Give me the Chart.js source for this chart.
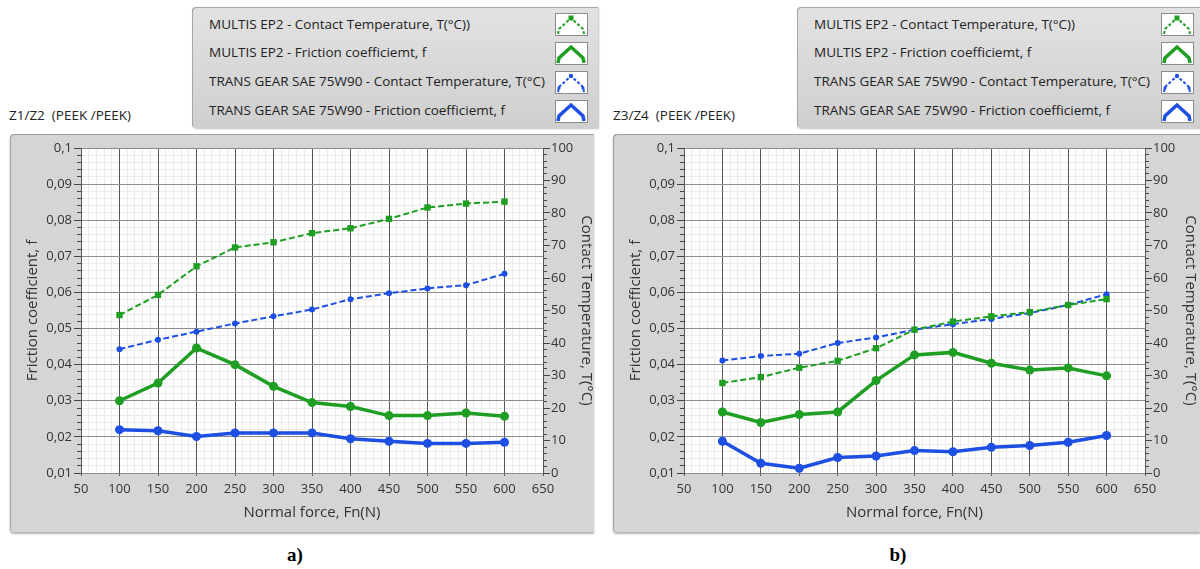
<!DOCTYPE html>
<html>
<head>
<meta charset="utf-8">
<script src="https://cdn.jsdelivr.net/npm/chart.js@4.4.1/dist/chart.umd.min.js"></script>
<style>
    body { margin: 0; width: 1200px; height: 569px; background: #fff; position: relative; overflow: hidden;
           font-family: "Open Sans", sans-serif; color: #222; }
    .panel-title { position: absolute; top: 106px; font-size: 13.5px; line-height: 18px; white-space: pre; }
    .legend { position: absolute; top: 7px; height: 121px; box-sizing: border-box;
              background: linear-gradient(#e2e2e2, #cfcfcf); border-radius: 4px 0 0 4px;
              box-shadow: inset 1px 1px 0 #a6a6a6, 1px 1px 2px rgba(0,0,0,0.25); }
    .legend .row { position: absolute; font-size: 13.5px; line-height: 18px; white-space: nowrap; }
    .legend svg { position: absolute; }
    .frame { position: absolute; top: 134px; height: 398px; background: #d5d5d5; border-radius: 4px 0 0 4px;
             box-shadow: inset 1px 1px 0 #a3a3a3, 0 2px 2px rgba(0,0,0,0.3); }
    .frame canvas { position: absolute; left: 0; top: 0; }
    .caption { position: absolute; top: 543px; width: 40px; text-align: center;
               font: bold 19px "Liberation Serif", "Times New Roman", serif; line-height: 24px; color: #000; }
</style>
</head>
<body>
<script>
const forceN = [100, 150, 200, 250, 300, 350, 400, 450, 500, 550, 600];
const xTicks = [50, 650, 50];      // min, max, step
const fricTicks = [0.01, 0.1, 0.01];
const tempTicks = [0, 100, 10];

// a) Z1/Z2
const multisTempA = [48.6, 54.8, 63.6, 69.4, 71.0, 73.8, 75.3, 78.2, 81.7, 82.9, 83.5];
const multisFricA = [0.0300, 0.0349, 0.0446, 0.0400, 0.0340, 0.0295, 0.0284, 0.0259, 0.0259, 0.0266, 0.0257];
const transTempA = [38.1, 41.0, 43.5, 46.0, 48.2, 50.3, 53.5, 55.3, 56.8, 57.8, 61.3];
const transFricA = [0.0220, 0.0217, 0.0201, 0.0211, 0.0211, 0.0211, 0.0195, 0.0188, 0.0182, 0.0182, 0.0185];

// b) Z3/Z4
const multisTempB = [27.7, 29.5, 32.4, 34.5, 38.4, 44.1, 46.6, 48.2, 49.5, 51.7, 53.5];
const multisFricB = [0.0269, 0.0240, 0.0262, 0.0269, 0.0356, 0.0427, 0.0434, 0.0404, 0.0385, 0.0391, 0.0369];
const transTempB = [34.6, 36.0, 36.7, 40.0, 41.7, 44.1, 45.8, 47.4, 49.2, 51.7, 55.0];
const transFricB = [0.0188, 0.0127, 0.0113, 0.0143, 0.0147, 0.0162, 0.0159, 0.0171, 0.0176, 0.0185, 0.0204];

const seriesNames = [
    'MULTIS EP2 - Contact Temperature, T(°C))',
    'MULTIS EP2 - Friction coefficiemt, f',
    'TRANS GEAR SAE 75W90 - Contact Temperature, T(°C)',
    'TRANS GEAR SAE 75W90 - Friction coefficiemt, f'
];

const GREEN = '#1e9e22';
const BLUE = '#1c4fe2';
const TEXT = '#333';
const FONT = '"Open Sans", sans-serif';

const seriesStyles = [
    { color: GREEN, dashed: true, marker: 'rect', radius: 4.5, axis: 'y1' },
    { color: GREEN, dashed: false, marker: 'circle', radius: 4.5, axis: 'y' },
    { color: BLUE, dashed: true, marker: 'circle', radius: 3, axis: 'y1' },
    { color: BLUE, dashed: false, marker: 'circle', radius: 4.5, axis: 'y' }
];

// white plot area inside the grey frame
const plotBg = {
    id: 'plotBg',
    beforeDraw(chart) {
        const { ctx, chartArea: a } = chart;
        ctx.save();
        ctx.fillStyle = '#fff';
        ctx.fillRect(a.left, a.top, a.right - a.left, a.bottom - a.top);
        ctx.restore();
    }
};

function fmtComma(v) {
    return String(Number(v.toFixed(3))).replace('.', ',');
}

function swatchSvg(style) {
    const w = style.dashed ? 2 : 3.5;
    const dash = style.dashed ? 'stroke-dasharray="3,2"' : '';
    const pts = '3,21 4,16 16,5 28,16 29,21';
    let marks = '';
    if (style.dashed) {
        marks = style.marker === 'rect'
            ? '<rect x="13.5" y="2.5" width="5" height="5" fill="' + style.color + '"/>'
            : '<circle cx="16" cy="5" r="2.2" fill="' + style.color + '"/>'
              + '<circle cx="4" cy="17" r="1.6" fill="' + style.color + '"/><circle cx="28" cy="17" r="1.6" fill="' + style.color + '"/>';
    }
    return '<svg width="33" height="23" viewBox="0 0 33 23" style="background:#fff;box-shadow:inset 0 0 0 1px #8c8c8c">'
        + '<polyline points="' + pts + '" fill="none" stroke="' + style.color + '" stroke-width="' + w + '" ' + dash + ' stroke-linejoin="miter"/>'
        + marks + '</svg>';
}

function buildLegend(left, width, swatchX) {
    const box = document.createElement('div');
    box.className = 'legend';
    box.style.left = left + 'px';
    box.style.width = width + 'px';
    const rowY = [24, 52, 81, 110];
    const boxY = [13, 42, 71, 100];
    seriesNames.forEach((name, i) => {
        const row = document.createElement('div');
        row.className = 'row';
        row.style.left = '17px';
        row.style.top = (rowY[i] - 7 - 9) + 'px';
        row.textContent = name;
        box.appendChild(row);
        const holder = document.createElement('div');
        holder.innerHTML = swatchSvg(seriesStyles[i]);
        const svg = holder.firstChild;
        svg.style.left = swatchX + 'px';
        svg.style.top = (boxY[i] - 7) + 'px';
        box.appendChild(svg);
    });
    document.body.appendChild(box);
}

function makePanel(p) {
    const t = document.createElement('div');
    t.className = 'panel-title';
    t.style.left = p.titleX + 'px';
    t.textContent = p.title;
    document.body.appendChild(t);

    buildLegend(p.legendX, p.legendW, p.swatchX);

    const frame = document.createElement('div');
    frame.className = 'frame';
    frame.style.left = p.frameX + 'px';
    frame.style.width = p.frameW + 'px';
    const canvas = document.createElement('canvas');
    canvas.width = p.frameW;
    canvas.height = 398;
    frame.appendChild(canvas);
    document.body.appendChild(frame);

    const cap = document.createElement('div');
    cap.className = 'caption';
    cap.style.left = (p.captionX - 20) + 'px';
    cap.textContent = p.caption;
    document.body.appendChild(cap);

    const datasets = p.values.map((vals, i) => {
        const s = seriesStyles[i];
        return {
            label: seriesNames[i],
            data: forceN.map((f, k) => ({ x: f, y: vals[k] })),
            xAxisID: 'x',
            yAxisID: s.axis,
            borderColor: s.color,
            backgroundColor: s.color,
            borderWidth: s.dashed ? 2 : 3.5,
            borderDash: s.dashed ? [6, 3] : [],
            pointStyle: s.marker,
            pointRadius: s.radius,
            pointBorderWidth: 0,
            tension: 0
        };
    });

    const tickFont = { family: FONT, size: 13 };
    const titleFont = { family: FONT, size: 15, lineHeight: 1 };

    new Chart(canvas, {
        type: 'line',
        data: { datasets },
        plugins: [plotBg],
        options: {
            responsive: false,
            animation: false,
            layout: { padding: { top: 14, left: 0, right: 0, bottom: 0 } },
            plugins: { legend: { display: false }, tooltip: { enabled: false } },
            scales: {
                x: {
                    type: 'linear', position: 'bottom', weight: 1,
                    min: xTicks[0], max: xTicks[1],
                    ticks: { stepSize: xTicks[2], color: TEXT, font: tickFont, padding: 5, maxRotation: 0, autoSkip: false },
                    grid: { color: '#575757', tickColor: '#575757', tickLength: 3 },
                    border: { color: '#8c8c8c' },
                    title: { display: true, text: 'Normal force, Fn(N)', color: TEXT, font: titleFont, padding: { top: 0, bottom: 12 } },
                    afterFit: (s) => { s.height = 59; }
                },
                xm: {
                    type: 'linear', position: 'bottom', weight: 0,
                    min: xTicks[0], max: xTicks[1],
                    ticks: { stepSize: 10, display: false },
                    grid: { color: '#ebebeb', drawTicks: false, z: -2 },
                    border: { display: false },
                    afterFit: (s) => { s.height = 0; }
                },
                y: {
                    type: 'linear', position: 'left', weight: 1,
                    min: fricTicks[0], max: fricTicks[1],
                    ticks: { stepSize: fricTicks[2], color: TEXT, font: tickFont, padding: 2, callback: (v) => fmtComma(v) },
                    grid: { color: '#8e8e8e', tickColor: '#444', tickLength: 7 },
                    border: { color: '#575757' },
                    title: { display: true, text: 'Friction coefficient, f', color: TEXT, font: titleFont, padding: { top: 15, bottom: 0 } },
                    afterFit: (s) => { s.width = p.leftW; }
                },
                ym: {
                    type: 'linear', position: 'left', weight: 0,
                    min: fricTicks[0], max: fricTicks[1],
                    ticks: { stepSize: 0.002, display: false },
                    grid: { color: '#ebebeb', tickColor: '#444', tickLength: 4, z: -2 },
                    border: { display: false },
                    afterFit: (s) => { s.width = 0; }
                },
                y1: {
                    type: 'linear', position: 'right', weight: 1,
                    min: tempTicks[0], max: tempTicks[1],
                    ticks: { stepSize: tempTicks[2], color: TEXT, font: tickFont, padding: 1 },
                    grid: { drawOnChartArea: false, tickColor: '#444', tickLength: 7 },
                    border: { color: '#575757' },
                    title: { display: true, text: 'Contact Temperature, T(°C)', color: TEXT, font: titleFont, padding: { top: p.rightTitlePad, bottom: 0 } },
                    afterFit: (s) => { s.width = p.rightW; }
                },
                y1m: {
                    type: 'linear', position: 'right', weight: 0,
                    min: tempTicks[0], max: tempTicks[1],
                    ticks: { stepSize: 2, display: false },
                    grid: { drawOnChartArea: false, tickColor: '#444', tickLength: 4 },
                    border: { display: false },
                    afterFit: (s) => { s.width = 0; }
                }
            }
        }
    });
}

makePanel({
    title: 'Z1/Z2  (PEEK /PEEK)', titleX: 9,
    legendX: 192, legendW: 406, swatchX: 363,
    frameX: 10, frameW: 584, leftW: 71, rightW: 51, rightTitlePad: 0,
    caption: 'a)', captionX: 295,
    values: [multisTempA, multisFricA, transTempA, transFricA]
});

makePanel({
    title: 'Z3/Z4  (PEEK /PEEK)', titleX: 613,
    legendX: 797, legendW: 403, swatchX: 364,
    frameX: 613, frameW: 587, leftW: 71, rightW: 55, rightTitlePad: 2,
    caption: 'b)', captionX: 898,
    values: [multisTempB, multisFricB, transTempB, transFricB]
});
</script>
</body>
</html>
